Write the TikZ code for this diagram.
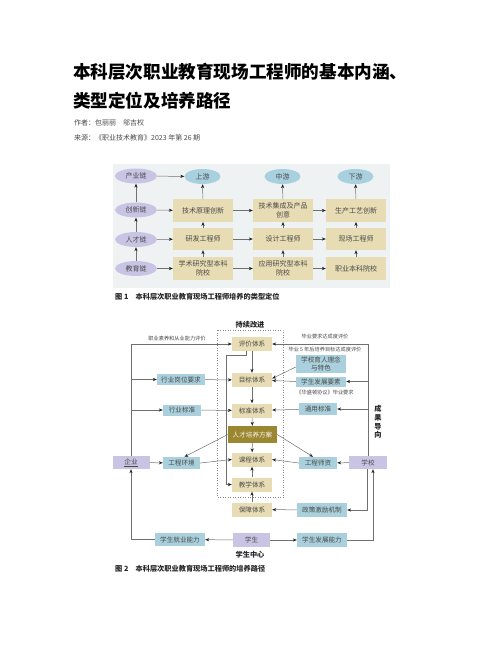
\documentclass[tikz,border=0pt]{standalone}
\usepackage{fontspec}
\setmainfont{Noto Sans CJK SC}
\usetikzlibrary{arrows.meta,shapes.geometric,calc}
\definecolor{beige}{HTML}{E7DCB3}
\definecolor{olive}{HTML}{9C8731}
\definecolor{lblue}{HTML}{A9D0DC}
\definecolor{lav}{HTML}{C9C4E4}
\definecolor{ebl}{HTML}{A8D0DE}
\definecolor{bgone}{HTML}{EFF2F3}
\definecolor{lin}{HTML}{707070}
\definecolor{txt}{HTML}{4A4A4A}
\tikzset{
  fa/.style={draw=lin,line width=0.5pt,-{Stealth[length=4pt,width=3.2pt,color=black!85]}},
  fbox/.style={fill=beige,inner sep=0pt,minimum width=60pt,minimum height=22.5pt,align=center,text=txt,font=\fontsize{7}{9}\selectfont},
  fell/.style={ellipse,inner sep=0pt,minimum width=42pt,minimum height=15pt,text=txt,font=\fontsize{7}{9}\selectfont},
  sbox/.style={inner sep=0pt,minimum height=13pt,align=center,text=txt,font=\fontsize{6.6}{8}\selectfont},
  bbox/.style={sbox,fill=beige,minimum width=40pt,minimum height=14pt},
  ubox/.style={sbox,fill=lblue},
  vbox/.style={sbox,fill=lav,minimum width=37pt},
  lab/.style={inner sep=0pt,text=txt,font=\fontsize{5.2}{6}\selectfont},
  hd/.style={inner sep=0pt,text=black!85,font=\fontsize{7.2}{8.5}\selectfont\bfseries}
}
\begin{document}
\begin{tikzpicture}[x=1pt,y=-1pt]
\useasboundingbox[fill=white] (0,0) rectangle (502,649);
% header
\node[anchor=west,inner sep=0pt,font=\fontsize{17.6}{20}\selectfont\bfseries] (t1) at (73,72) {本科层次职业教育现场工程师的基本内涵、};
\node[anchor=west,inner sep=0pt,font=\fontsize{17.6}{20}\selectfont\bfseries] (t2) at (73,101) {类型定位及培养路径};
\node[anchor=west,inner sep=0pt,text=txt,font=\fontsize{7}{8}\selectfont] (au) at (74,123) {作者：包丽丽　邬吉权};
\node[anchor=west,inner sep=0pt,text=txt,font=\fontsize{7}{8}\selectfont] (src) at (74,138) {来源：《职业技术教育》2023 年第 26 期};
% ---------- figure 1 ----------
\fill[bgone] (113,164) rectangle (390,288);
\node[fell,fill=lav] (cy) at (136,176) {产业链};
\node[fell,fill=lav] (cx) at (136,210) {创新链};
\node[fell,fill=lav] (rl) at (136,239.5) {人才链};
\node[fell,fill=lav] (jl) at (136,268.5) {教育链};
\node[fell,fill=ebl,minimum width=36pt] (sy) at (202.5,176.5) {上游};
\node[fell,fill=ebl,minimum width=36pt] (zy) at (282.5,176.5) {中游};
\node[fell,fill=ebl,minimum width=36pt] (xy) at (355.5,176.5) {下游};
\node[fbox] (a1) at (203,210.5) {技术原理创新};
\node[fbox] (a2) at (283,210.5) {技术集成及产品\\创意};
\node[fbox] (a3) at (356,210.5) {生产工艺创新};
\node[fbox,minimum height=22pt] (b1) at (203,239) {研发工程师};
\node[fbox,minimum height=22pt] (b2) at (283,239) {设计工程师};
\node[fbox,minimum height=22pt] (b3) at (356,239) {现场工程师};
\node[fbox] (c1) at (203,268.5) {学术研究型本科\\院校};
\node[fbox] (c2) at (283,268.5) {应用研究型本科\\院校};
\node[fbox] (c3) at (356,268.5) {职业本科院校};
\draw[fa] (cy) -- (sy);
\draw[fa] (cx) -- (a1);
\draw[fa] (rl) -- (b1);
\draw[fa] (jl) -- (c1);
\draw[fa] (jl) -- (rl);
\draw[fa] (rl) -- (cx);
\draw[fa] (cx) -- (cy);
\foreach \r in {a,b,c}{
  \draw[fa] (\r1) -- (\r2);
  \draw[fa] (\r2) -- (\r3);
}
\foreach \i/\e in {1/sy,2/zy,3/xy}{
  \draw[fa] (c\i) -- (b\i);
  \draw[fa] (b\i) -- (a\i);
  \draw[fa] (a\i) -- (\e);
}
\node[anchor=west,inner sep=0pt,font=\fontsize{7.2}{8}\selectfont\bfseries,text=black!85] (cap1) at (115,297) {图 1　本科层次职业教育现场工程师培养的类型定位};
% ---------- figure 2 ----------
\draw[black!45,dotted,line width=0.5pt] (217,330) rectangle (283,497);
\node[hd] (cxgj) at (250,325) {持续改进};
\node[bbox] (pj) at (252,344) {评价体系};
\node[bbox] (mb) at (252,380) {目标体系};
\node[bbox] (bz) at (252,410.5) {标准体系};
\node[sbox,fill=olive,text=white!92!olive,minimum width=49pt,minimum height=17pt] (rc) at (252.5,434.5) {人才培养方案};
\node[bbox] (kc) at (252,459.5) {课程体系};
\node[bbox] (jx) at (252,484.5) {教学体系};
\node[bbox] (bt) at (252,509.5) {保障体系};
\node[vbox,minimum height=14pt] (xs) at (251.5,540) {学生};
\node[hd] (xszx) at (250,555) {学生中心};
\node[ubox,minimum width=50pt] (jy) at (180,539.5) {学生就业能力};
\node[ubox,minimum width=50pt,minimum height=14pt] (fz) at (322,540) {学生发展能力};
\node[ubox,minimum width=50pt,minimum height=14pt] (zc) at (322,510) {政策激励机制};
\node[vbox] (qy) at (131,462.5) {\underline{企业}};
\node[vbox,minimum width=38pt] (xx) at (368,462.5) {学校};
\node[ubox,minimum width=37pt,minimum height=12pt] (hj) at (181.5,463) {工程环境};
\node[ubox,minimum width=38pt,minimum height=12pt] (sz) at (318,463) {工程师资};
\node[ubox,minimum width=38pt,minimum height=11pt] (hb) at (182,410) {行业标准};
\node[ubox,minimum width=48pt,minimum height=11pt] (gw) at (181,379.5) {行业岗位要求};
\node[ubox,minimum width=38pt,minimum height=12pt] (tb) at (318,409) {通用标准};
\node[ubox,minimum width=50pt,minimum height=10pt] (fy) at (321,381.5) {学生发展要素};
\node[ubox,minimum width=50pt,minimum height=18pt,font=\fontsize{6.6}{7.5}\selectfont] (ln) at (321,364) {学校育人理念\\与特色};
\node[lab] (l1) at (177,339) {职业素养和从业能力评价};
\node[lab] (l2) at (325,337) {毕业要求达成度评价};
\node[lab] (l3) at (325,350) {毕业 5 年后培养目标达成度评价};
\node[lab] (l4) at (325,393) {《华盛顿协议》毕业要求};
\node[hd,align=center,font=\fontsize{7.2}{8.6}\selectfont\bfseries] (cgdx) at (378,422) {成\\果\\导\\向};
% left side
\draw[fa] (qy.north) |- (pj.west);
\draw[fa] (qy.north |- gw.west) -- (gw.west);
\draw[fa] (qy.north |- hb.west) -- (hb.west);
\draw[fa] (jy.west) -| (qy.south);
\draw[fa] (qy) -- (hj);
\draw[fa] (gw) -- (mb);
\draw[fa] (hb) -- (bz);
\draw[fa] (hj.east) -- (kc.west);
\draw[fa] (rc.west) -- ([xshift=3pt]hj.north);
\draw[fa] (rc.east) -- ([xshift=-5pt]sz.north);
% centre chain
\draw[fa] (pj) -- (mb);
\draw[fa] (mb) -- (bz);
\draw[fa] (bz) -- (rc);
\draw[fa] (rc) -- (kc);
\draw[fa] (jx) -- (kc);
\draw[fa] (bt) -- (jx);
\coordinate (lp) at (226,355);
\draw[fa] ([xshift=-6pt]pj.south) |- (lp) |- (jx.west);
% right side
\draw[fa] (xx.north) |- (pj.east);
\draw[fa] (xx.north |- fy.east) -- (fy.east);
\draw[fa] (xx.north |- tb.east) -- (tb.east);
\draw[fa] (tb) -- (bz);
\draw[fa] ([yshift=-3pt]ln.west) -- ([yshift=1.5pt]mb.east);
\draw[fa] (fy.west) -- ([yshift=-0.5pt]mb.east);
\draw[fa] (xx) -- (sz);
\draw[fa] (sz.west) -- (kc.east);
\draw[fa] ([xshift=-1pt]xx.south) |- (zc.east);
\draw[fa] (fz.east) -| ([xshift=5pt]xx.south);
\draw[fa] (zc) -- (bt);
\draw[fa] (xs) -- (jy);
\draw[fa] (xs) -- (fz);
\node[anchor=west,inner sep=0pt,font=\fontsize{7.2}{8}\selectfont\bfseries,text=black!85] (cap2) at (115,569) {图 2　本科层次职业教育现场工程师的培养路径};
\end{tikzpicture}
\end{document}
